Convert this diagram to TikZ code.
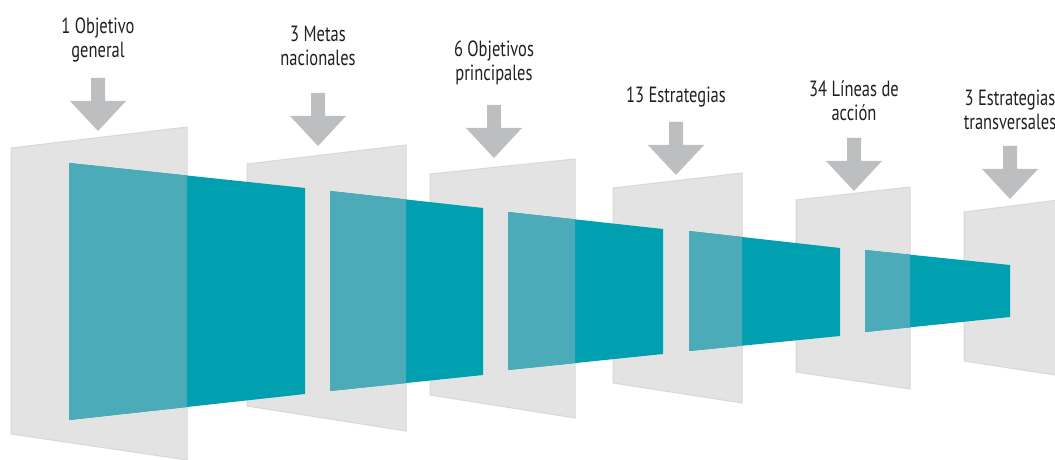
\documentclass[tikz,border=0pt]{standalone}
\usepackage{fontspec}
\setmainfont[FakeStretch=0.75]{PT Sans}
\definecolor{panelgray}{HTML}{E3E3E3}
\definecolor{paneledge}{HTML}{D8D8D8}
\definecolor{tealdark}{HTML}{00A0B0}
\definecolor{teallight}{HTML}{4BABB8}
\definecolor{arrowgray}{HTML}{BCBEC0}
\definecolor{labeltext}{HTML}{231F20}
\tikzset{
  panel/.style={fill=panelgray, draw=paneledge, line width=0.5pt},
  band/.style={fill=tealdark},
  bandlight/.style={fill=teallight},
  downarrow/.style={fill=arrowgray},
  lbl/.style={align=center, text=labeltext, anchor=base,
    font=\fontsize{11}{12.3}\selectfont}
}
\begin{document}
\begin{tikzpicture}[x=0.5pt, y=-0.5pt]
  \useasboundingbox (0,0) rectangle (1055,460);
  \clip (0,0) rectangle (1055,460);

  % Panels and teal bands, drawn from the back (right) to the front (left)
  \foreach \pxl/\ptl/\pbl/\pxr/\ptr/\pbr/\bxl/\btl/\bbl/\bxr/\btr/\bbr in {
      964/212/361/1074/198/378/0/0/0/0/0/0,
      796/200/372/910/187/389/865/250/332/1010/265/317,
      613/188/383/742/173/403/689/231/351/840/248/336,
      430/174/395/575/159/418/508/212/370/663/229/354,
      247/164/406/406/145/431/330/191/391/483/208/375,
      11/148/434/187/127/460/69/163/420/305/188/394} {
    \draw[panel] (\pxl,\ptl) -- (\pxr,\ptr) -- (\pxr,\pbr) -- (\pxl,\pbl) -- cycle;
    \ifnum\bxl>0
      \fill[band] (\bxl,\btl) -- (\bxr,\btr) -- (\bxr,\bbr) -- (\bxl,\bbl) -- cycle;
      \begin{scope}
        \clip (\pxl,\ptl) -- (\pxr,\ptr) -- (\pxr,\pbr) -- (\pxl,\pbl) -- cycle;
        \fill[bandlight] (\bxl,\btl) -- (\bxr,\btr) -- (\bxr,\bbr) -- (\bxl,\bbl) -- cycle;
      \end{scope}
    \fi
  }

  % Down arrows, given by their tips
  \foreach \x/\y in {98/131, 318/146, 494/158, 676/175, 854/191, 1010/199} {
    \fill[downarrow] (\x-7,\y-53) -- (\x+7,\y-53) -- (\x+7,\y-30) -- (\x+28,\y-30)
      -- (\x,\y) -- (\x-28,\y-30) -- (\x-7,\y-30) -- cycle;
  }

  % Labels (base = baseline of the last line)
  \node[lbl] (objetivo)    at (98,58)   {1 Objetivo\\general};
  \node[lbl] (metas)       at (318,66)  {3 Metas\\nacionales};
  \node[lbl] (objetivos)   at (494,81)  {6 Objetivos\\principales};
  \node[lbl] (estrategias) at (676,103) {13 Estrategias};
  \node[lbl] (lineas)      at (854,121) {34 Líneas de\\acción};
  \node[lbl] (transv)      at (1010,130) {3 Estrategias\\transversales};
\end{tikzpicture}
\end{document}
